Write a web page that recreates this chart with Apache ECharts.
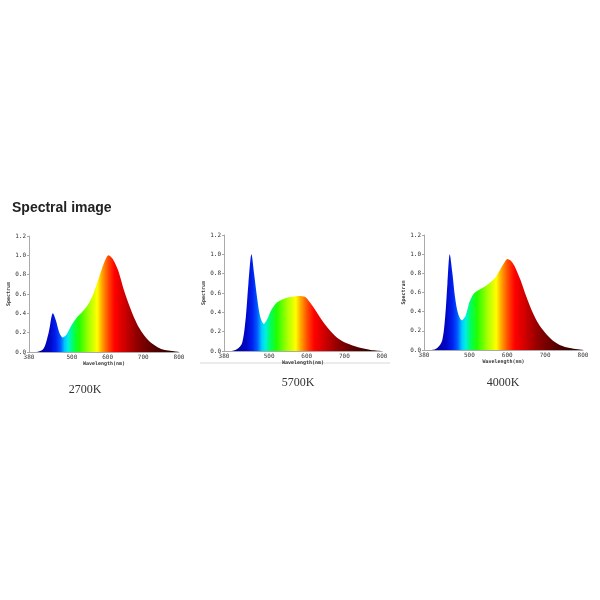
<!DOCTYPE html>
<html>
<head>
<meta charset="utf-8">
<script src="https://cdn.jsdelivr.net/npm/echarts@6/dist/echarts.min.js"></script>
<style>
  html, body { margin: 0; padding: 0; background: #fff; }
  #main { width: 600px; height: 600px; }
</style>
</head>
<body>
<div id="main"></div>
<script>
// spectra (wavelength in nm, relative intensity)
var wl2700 = [380, 400, 420, 435, 447, 455, 465, 475, 485, 495, 505, 517, 530, 545, 560, 575, 590, 603, 615, 630, 645, 660, 675, 690, 705, 720, 740, 760, 780, 800];
var val2700 = [0, 0, 0.03, 0.2, 0.40, 0.33, 0.2, 0.15, 0.18, 0.25, 0.31, 0.37, 0.42, 0.49, 0.6, 0.76, 0.92, 1.0, 0.96, 0.84, 0.65, 0.49, 0.35, 0.24, 0.16, 0.1, 0.05, 0.02, 0.01, 0];

var wl5700 = [380, 400, 415, 428, 438, 445, 453, 460, 468, 476, 486, 495, 505, 520, 540, 560, 580, 595, 605, 620, 640, 660, 680, 700, 720, 745, 770, 800];
var val5700 = [0, 0, 0.02, 0.08, 0.35, 0.7, 1.0, 0.8, 0.55, 0.36, 0.28, 0.33, 0.42, 0.5, 0.54, 0.56, 0.57, 0.56, 0.52, 0.44, 0.32, 0.22, 0.14, 0.09, 0.06, 0.03, 0.01, 0];

var wl4000 = [380, 400, 415, 428, 436, 442, 448, 455, 462, 470, 480, 490, 500, 510, 522, 535, 550, 565, 580, 592, 600, 610, 620, 635, 650, 665, 680, 700, 720, 740, 765, 800];
var val4000 = [0, 0, 0.02, 0.1, 0.35, 0.7, 1.0, 0.8, 0.55, 0.38, 0.31, 0.36, 0.5, 0.58, 0.62, 0.65, 0.69, 0.74, 0.83, 0.91, 0.95, 0.93, 0.87, 0.73, 0.56, 0.41, 0.29, 0.18, 0.1, 0.05, 0.02, 0];

var xTicks = [380, 500, 600, 700, 800];
var cctLabels = ['2700K', '5700K', '4000K'];

// spectrum colours by wavelength
var spectrum = [
  [380, '#000070'], [410, '#00009a'], [440, '#0008c8'], [455, '#0020f0'],
  [468, '#0058ff'], [480, '#00c8ff'], [490, '#00f0e0'], [503, '#00ff60'],
  [520, '#20ff00'], [548, '#a8ff00'], [571, '#ffff00'], [584, '#ffa800'],
  [602, '#ff4800'], [620, '#ff0000'], [647, '#d00000'], [682, '#900000'],
  [735, '#500000'], [800, '#1e0000']
];

function pairs(w, v) {
  return w.map(function (x, i) { return [x, v[i]]; });
}

var gradient = new echarts.graphic.LinearGradient(0, 0, 1, 0,
  spectrum.map(function (s) { return { offset: (s[0] - 380) / 420, color: s[1] }; }));

var tickFont = { fontSize: 6, fontFamily: 'DejaVu Sans Mono', color: '#333' };

var grids = [
  { left: 29, top: 236, width: 150, height: 116 },
  { left: 224, top: 235, width: 158, height: 116 },
  { left: 424, top: 235, width: 159, height: 115 }
];

var xAxes = [], yAxes = [], series = [];
var sets = [pairs(wl2700, val2700), pairs(wl5700, val5700), pairs(wl4000, val4000)];

sets.forEach(function (d, i) {
  xAxes.push({
    type: 'value', gridIndex: i, min: 380, max: 800,
    name: 'Wavelength(nm)', nameLocation: 'middle', nameGap: 9,
    nameTextStyle: { fontSize: 5, fontWeight: 'bold', fontFamily: 'DejaVu Sans Mono', color: '#333' },
    axisLine: { lineStyle: { color: '#aaa', width: 1 } },
    axisTick: { show: false },
    axisLabel: Object.assign({ margin: 2, customValues: xTicks }, tickFont),
    splitLine: { show: false }
  });
  yAxes.push({
    type: 'value', gridIndex: i, min: 0, max: 1.2, interval: 0.2,
    name: 'Spectrum', nameLocation: 'middle', nameGap: 15,
    nameTextStyle: { fontSize: 5, fontWeight: 'bold', fontFamily: 'DejaVu Sans Mono', color: '#333' },
    axisLine: { show: true, lineStyle: { color: '#aaa', width: 1 } },
    axisTick: { show: true, length: 2, lineStyle: { color: '#aaa' } },
    axisLabel: Object.assign({ margin: 3, formatter: function (v) { return v.toFixed(1); } }, tickFont),
    splitLine: { show: false }
  });
  series.push({
    type: 'line', xAxisIndex: i, yAxisIndex: i,
    data: d, smooth: 0.3, symbol: 'none',
    lineStyle: { width: 0 },
    areaStyle: { color: gradient, opacity: 1 }
  });
});

var chart = echarts.init(document.getElementById('main'));
var option = {
  backgroundColor: '#fff',
  animation: false,
  title: {
    text: 'Spectral image', left: 12, top: 201, padding: 0,
    textStyle: { fontSize: 14, fontWeight: 'bold', fontFamily: 'Liberation Sans', color: '#222' }
  },
  grid: grids,
  xAxis: xAxes,
  yAxis: yAxes,
  series: series,
  graphic: [
    { type: 'line', shape: { x1: 200, y1: 363, x2: 390, y2: 363 }, style: { stroke: '#d8d8d8', lineWidth: 1 } },
    { type: 'text', x: 85, y: 384, style: { text: cctLabels[0], textAlign: 'center', font: '12px "Liberation Serif"', fill: '#333' } },
    { type: 'text', x: 298, y: 377, style: { text: cctLabels[1], textAlign: 'center', font: '12px "Liberation Serif"', fill: '#333' } },
    { type: 'text', x: 503, y: 377, style: { text: cctLabels[2], textAlign: 'center', font: '12px "Liberation Serif"', fill: '#333' } }
  ]
};
chart.setOption(option);
</script>
</body>
</html>
